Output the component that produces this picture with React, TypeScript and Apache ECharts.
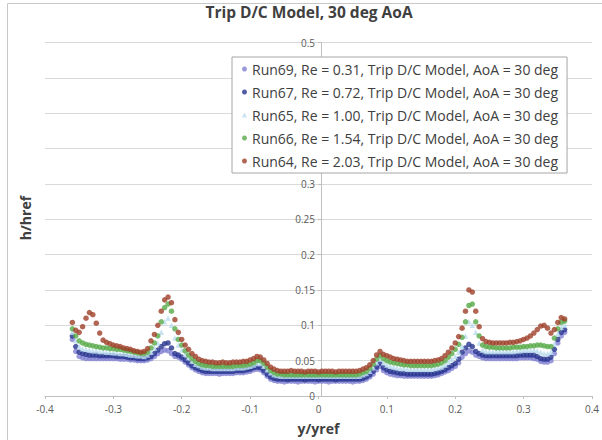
import React, { useEffect, useRef } from "react";
import * as echarts from "echarts";

const titleText = "Trip D/C Model, 30 deg AoA";
const xName = "y/yref";
const yName = "h/href";

const seriesNames = [
  "Run69, Re = 0.31, Trip D/C Model, AoA = 30 deg",
  "Run67, Re = 0.72, Trip D/C Model, AoA = 30 deg",
  "Run65, Re = 1.00, Trip D/C Model, AoA = 30 deg",
  "Run66, Re = 1.54, Trip D/C Model, AoA = 30 deg",
  "Run64, Re = 2.03, Trip D/C Model, AoA = 30 deg",
];
const seriesColors = ["#7f7fd2", "#25338f", "#b9dcef", "#58aa48", "#9e3f28"];
const seriesSymbols = ["circle", "circle", "triangle", "circle", "circle"];

// y-tick labels hidden behind the legend box in the reference
const hiddenYTicks = [0.35, 0.4, 0.45];

const xs = [
  -0.36, -0.355, -0.35, -0.345, -0.34, -0.335, -0.33, -0.325, -0.32, -0.315,
  -0.31, -0.305, -0.3, -0.295, -0.29, -0.285, -0.28, -0.275, -0.27, -0.265,
  -0.26, -0.255, -0.25, -0.245, -0.24, -0.235, -0.23, -0.225, -0.22, -0.215,
  -0.21, -0.205, -0.2, -0.195, -0.19, -0.185, -0.18, -0.175, -0.17, -0.165,
  -0.16, -0.155, -0.15, -0.145, -0.14, -0.135, -0.13, -0.125, -0.12, -0.115,
  -0.11, -0.105, -0.1, -0.095, -0.09, -0.085, -0.08, -0.075, -0.07, -0.065,
  -0.06, -0.055, -0.05, -0.045, -0.04, -0.035, -0.03, -0.025, -0.02, -0.015,
  -0.01, -0.005, 0, 0.005, 0.01, 0.015, 0.02, 0.025, 0.03, 0.035,
  0.04, 0.045, 0.05, 0.055, 0.06, 0.065, 0.07, 0.075, 0.08, 0.085,
  0.09, 0.095, 0.1, 0.105, 0.11, 0.115, 0.12, 0.125, 0.13, 0.135,
  0.14, 0.145, 0.15, 0.155, 0.16, 0.165, 0.17, 0.175, 0.18, 0.185,
  0.19, 0.195, 0.2, 0.205, 0.21, 0.215, 0.22, 0.225, 0.23, 0.235,
  0.24, 0.245, 0.25, 0.255, 0.26, 0.265, 0.27, 0.275, 0.28, 0.285,
  0.29, 0.295, 0.3, 0.305, 0.31, 0.315, 0.32, 0.325, 0.33, 0.335,
  0.34, 0.345, 0.35, 0.355, 0.36,
];

const run69 = [
  0.080, 0.063, 0.056, 0.054, 0.053, 0.053, 0.053, 0.053, 0.053, 0.053,
  0.053, 0.053, 0.053, 0.053, 0.052, 0.052, 0.052, 0.051, 0.051, 0.050,
  0.050, 0.050, 0.051, 0.053, 0.056, 0.060, 0.063, 0.065, 0.064, 0.060,
  0.056, 0.055, 0.052, 0.048, 0.044, 0.040, 0.037, 0.035, 0.033, 0.032,
  0.032, 0.032, 0.032, 0.031, 0.032, 0.032, 0.032, 0.032, 0.033, 0.033,
  0.033, 0.034, 0.035, 0.037, 0.038, 0.037, 0.033, 0.028, 0.024, 0.022,
  0.021, 0.021, 0.020, 0.021, 0.021, 0.021, 0.020, 0.021, 0.021, 0.021,
  0.021, 0.020, 0.021, 0.021, 0.021, 0.020, 0.021, 0.021, 0.021, 0.021,
  0.021, 0.021, 0.020, 0.021, 0.021, 0.022, 0.024, 0.027, 0.031, 0.037,
  0.042, 0.036, 0.033, 0.031, 0.030, 0.029, 0.029, 0.028, 0.028, 0.028,
  0.028, 0.028, 0.028, 0.028, 0.028, 0.028, 0.029, 0.030, 0.032, 0.034,
  0.036, 0.039, 0.042, 0.047, 0.055, 0.060, 0.064, 0.062, 0.058, 0.056,
  0.054, 0.053, 0.053, 0.053, 0.053, 0.053, 0.053, 0.053, 0.053, 0.053,
  0.053, 0.054, 0.054, 0.054, 0.054, 0.053, 0.052, 0.049, 0.048, 0.048,
  0.050, 0.060, 0.075, 0.085, 0.090,
];

const run67 = [
  0.085, 0.070, 0.062, 0.060, 0.059, 0.058, 0.058, 0.058, 0.057, 0.057,
  0.057, 0.057, 0.057, 0.056, 0.056, 0.056, 0.055, 0.054, 0.054, 0.053,
  0.053, 0.053, 0.054, 0.056, 0.060, 0.065, 0.070, 0.074, 0.075, 0.068,
  0.060, 0.058, 0.055, 0.051, 0.047, 0.043, 0.040, 0.038, 0.036, 0.035,
  0.035, 0.035, 0.035, 0.035, 0.035, 0.035, 0.035, 0.035, 0.036, 0.036,
  0.036, 0.037, 0.038, 0.040, 0.041, 0.040, 0.036, 0.031, 0.027, 0.025,
  0.024, 0.024, 0.024, 0.023, 0.024, 0.024, 0.024, 0.024, 0.023, 0.024,
  0.024, 0.024, 0.023, 0.024, 0.024, 0.024, 0.024, 0.023, 0.024, 0.024,
  0.024, 0.024, 0.024, 0.024, 0.024, 0.025, 0.027, 0.030, 0.035, 0.041,
  0.046, 0.040, 0.037, 0.035, 0.034, 0.033, 0.032, 0.032, 0.031, 0.031,
  0.031, 0.031, 0.031, 0.031, 0.031, 0.031, 0.032, 0.033, 0.035, 0.037,
  0.040, 0.043, 0.046, 0.052, 0.062, 0.068, 0.073, 0.070, 0.063, 0.060,
  0.058, 0.057, 0.057, 0.057, 0.057, 0.057, 0.057, 0.057, 0.057, 0.057,
  0.057, 0.058, 0.058, 0.058, 0.058, 0.058, 0.056, 0.053, 0.052, 0.052,
  0.055, 0.066, 0.080, 0.090, 0.094,
];

const run65 = [
  0.090, 0.078, 0.070, 0.067, 0.066, 0.065, 0.064, 0.064, 0.063, 0.063,
  0.062, 0.062, 0.061, 0.061, 0.060, 0.060, 0.059, 0.058, 0.058, 0.057,
  0.057, 0.056, 0.058, 0.062, 0.068, 0.075, 0.090, 0.105, 0.110, 0.100,
  0.082, 0.072, 0.065, 0.059, 0.054, 0.049, 0.045, 0.043, 0.041, 0.040,
  0.040, 0.039, 0.039, 0.039, 0.039, 0.039, 0.039, 0.039, 0.040, 0.040,
  0.040, 0.041, 0.042, 0.044, 0.046, 0.046, 0.042, 0.037, 0.033, 0.030,
  0.029, 0.028, 0.028, 0.028, 0.028, 0.028, 0.028, 0.028, 0.028, 0.028,
  0.028, 0.028, 0.028, 0.028, 0.028, 0.028, 0.028, 0.028, 0.028, 0.028,
  0.028, 0.028, 0.028, 0.028, 0.028, 0.030, 0.032, 0.035, 0.040, 0.047,
  0.052, 0.047, 0.044, 0.042, 0.041, 0.040, 0.039, 0.039, 0.038, 0.038,
  0.038, 0.038, 0.038, 0.038, 0.038, 0.038, 0.039, 0.040, 0.041, 0.044,
  0.048, 0.052, 0.056, 0.062, 0.070, 0.085, 0.105, 0.100, 0.090, 0.075,
  0.065, 0.063, 0.063, 0.063, 0.063, 0.063, 0.063, 0.063, 0.063, 0.063,
  0.064, 0.064, 0.065, 0.065, 0.065, 0.065, 0.064, 0.062, 0.060, 0.060,
  0.062, 0.074, 0.088, 0.097, 0.100,
];

const run66 = [
  0.095, 0.085, 0.078, 0.075, 0.073, 0.072, 0.071, 0.070, 0.069, 0.068,
  0.068, 0.067, 0.067, 0.066, 0.066, 0.065, 0.064, 0.063, 0.062, 0.061,
  0.060, 0.060, 0.062, 0.068, 0.075, 0.085, 0.105, 0.125, 0.130, 0.120,
  0.095, 0.080, 0.072, 0.064, 0.058, 0.053, 0.049, 0.046, 0.044, 0.043,
  0.043, 0.042, 0.042, 0.042, 0.042, 0.042, 0.042, 0.042, 0.043, 0.043,
  0.043, 0.044, 0.045, 0.047, 0.050, 0.050, 0.046, 0.041, 0.036, 0.033,
  0.031, 0.031, 0.030, 0.030, 0.030, 0.030, 0.030, 0.030, 0.030, 0.030,
  0.030, 0.030, 0.030, 0.030, 0.030, 0.030, 0.030, 0.030, 0.030, 0.030,
  0.030, 0.030, 0.030, 0.030, 0.031, 0.033, 0.035, 0.039, 0.045, 0.052,
  0.057, 0.053, 0.050, 0.048, 0.047, 0.046, 0.045, 0.044, 0.044, 0.043,
  0.043, 0.043, 0.043, 0.043, 0.043, 0.043, 0.044, 0.045, 0.047, 0.050,
  0.055, 0.060, 0.066, 0.073, 0.083, 0.105, 0.128, 0.130, 0.105, 0.085,
  0.072, 0.070, 0.069, 0.069, 0.068, 0.068, 0.068, 0.068, 0.068, 0.069,
  0.069, 0.069, 0.070, 0.070, 0.071, 0.071, 0.072, 0.072, 0.071, 0.070,
  0.070, 0.082, 0.095, 0.104, 0.106,
];

const run64 = [
  0.104, 0.093, 0.090, 0.098, 0.110, 0.118, 0.115, 0.103, 0.089, 0.079,
  0.076, 0.074, 0.072, 0.071, 0.070, 0.068, 0.067, 0.066, 0.064, 0.063,
  0.062, 0.063, 0.067, 0.078, 0.087, 0.100, 0.120, 0.136, 0.140, 0.132,
  0.108, 0.090, 0.080, 0.072, 0.066, 0.060, 0.056, 0.052, 0.050, 0.049,
  0.048, 0.048, 0.047, 0.047, 0.048, 0.047, 0.047, 0.048, 0.048, 0.048,
  0.049, 0.049, 0.051, 0.053, 0.056, 0.055, 0.051, 0.046, 0.041, 0.038,
  0.036, 0.035, 0.035, 0.035, 0.036, 0.035, 0.035, 0.035, 0.034, 0.035,
  0.035, 0.035, 0.034, 0.035, 0.035, 0.035, 0.035, 0.034, 0.035, 0.035,
  0.035, 0.035, 0.035, 0.035, 0.036, 0.038, 0.040, 0.044, 0.050, 0.058,
  0.063, 0.059, 0.057, 0.055, 0.053, 0.052, 0.051, 0.050, 0.049, 0.049,
  0.049, 0.049, 0.049, 0.049, 0.049, 0.049, 0.050, 0.051, 0.053, 0.057,
  0.062, 0.068, 0.075, 0.084, 0.096, 0.120, 0.150, 0.147, 0.120, 0.098,
  0.081, 0.077, 0.076, 0.075, 0.075, 0.075, 0.075, 0.075, 0.076, 0.076,
  0.077, 0.078, 0.080, 0.082, 0.085, 0.089, 0.094, 0.099, 0.100, 0.096,
  0.089, 0.094, 0.104, 0.111, 0.109,
];

const seriesValues = [run69, run67, run65, run66, run64];

const font = "'Open Sans', Lato, sans-serif";

export default function App() {
  const ref = useRef<HTMLDivElement>(null);
  useEffect(() => {
    if (!ref.current) return;
    const chart = echarts.init(ref.current, undefined, { renderer: "svg" });
    chart.setOption({
      animation: false,
      backgroundColor: "#ffffff",
      textStyle: { fontFamily: font },
      grid: { left: 45, right: 5, top: 42.5, bottom: 43.5 },
      graphic: [
        {
          type: "rect",
          shape: { x: 7.5, y: 3.5, width: 620, height: 460 },
          style: { fill: "none", stroke: "#c8c8c8", lineWidth: 1 },
          silent: true,
          z: -1,
        },
        {
          type: "text",
          x: 309,
          y: 4,
          style: {
            text: titleText,
            fontFamily: font,
            fontSize: 15.5,
            fontWeight: "bold",
            fill: "#404040",
            textAlign: "center",
          },
        },
        {
          type: "text",
          x: 25,
          y: 218,
          rotation: Math.PI / 2,
          style: {
            text: yName,
            fontFamily: font,
            fontSize: 14,
            fontWeight: "bold",
            fill: "#404040",
            textAlign: "center",
            textVerticalAlign: "middle",
          },
        },
      ],
      legend: {
        orient: "vertical",
        left: 232,
        top: 57,
        backgroundColor: "#ffffff",
        borderColor: "#a6a6a6",
        borderWidth: 1,
        borderRadius: 0,
        padding: [5, 9, 5, 10],
        itemWidth: 5,
        itemHeight: 5,
        itemGap: 9,
        textStyle: { fontFamily: font, fontSize: 14, color: "#404040", lineHeight: 14 },
        data: seriesNames.map((n, i) => ({ name: n, icon: seriesSymbols[i] })),
      },
      xAxis: {
        type: "value",
        min: -0.4,
        max: 0.4,
        interval: 0.1,
        name: xName,
        nameLocation: "middle",
        nameGap: 25,
        nameTextStyle: { fontFamily: font, fontSize: 14, fontWeight: "bold", color: "#404040" },
        axisLine: { lineStyle: { color: "#bfbfbf" } },
        axisTick: { show: true, length: 3, lineStyle: { color: "#bfbfbf" } },
        axisLabel: { color: "#595959", fontSize: 10, margin: 8, fontFamily: font },
        splitLine: { show: false },
      },
      yAxis: {
        type: "value",
        min: 0,
        max: 0.5,
        interval: 0.05,
        offset: -276,
        axisLine: { show: true, onZero: false, lineStyle: { color: "#bfbfbf" } },
        axisTick: { show: true, length: 3, lineStyle: { color: "#bfbfbf" } },
        axisLabel: {
          color: "#595959",
          fontSize: 10,
          margin: 6,
          fontFamily: font,
          formatter: (v: number) =>
            hiddenYTicks.some((h) => Math.abs(h - v) < 1e-9) ? "" : String(+v.toFixed(2)),
        },
        splitLine: { show: true, lineStyle: { color: "#d9d9d9" } },
      },
      series: seriesNames.map((name, i) => ({
        name,
        type: "scatter",
        symbol: seriesSymbols[i],
        symbolSize: 5.5,
        itemStyle: { color: seriesColors[i] },
        data: xs.map((x, j) => [x, seriesValues[i][j]]),
      })),
    });
    return () => chart.dispose();
  }, []);
  return (
    <div
      ref={ref}
      style={{ position: "absolute", left: 0, top: 0, width: 602, height: 440 }}
    />
  );
}
